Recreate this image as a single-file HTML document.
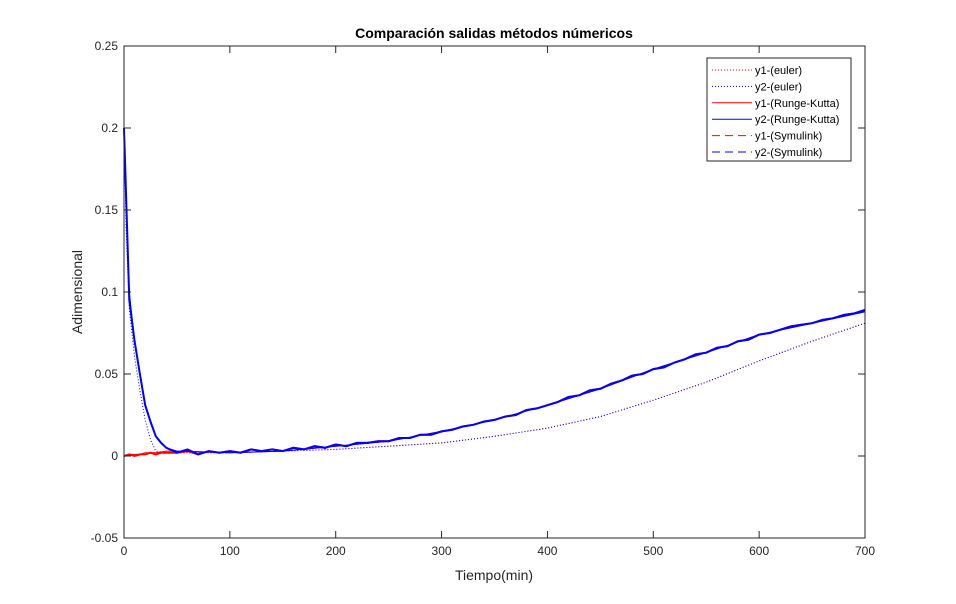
<!DOCTYPE html>
<html><head><meta charset="utf-8"><style>
body{margin:0;background:#fff}
svg{display:block;font-family:"Liberation Sans",sans-serif}
</style></head><body>
<svg id="chart" width="956" height="604" viewBox="0 0 956 604">
<rect width="956" height="604" fill="#fff"/>
<g id="plot"></g>
<text x="494" y="38" text-anchor="middle" font-size="14" font-weight="bold" fill="#000">Comparación salidas métodos númericos</text>
<text x="494" y="580" text-anchor="middle" font-size="14" fill="#262626">Tiempo(min)</text>
<text transform="translate(82,292) rotate(-90)" text-anchor="middle" font-size="14" fill="#262626">Adimensional</text>
</svg>
<script>
const xTicks=[0,100,200,300,400,500,600,700];
const yTicks=[-0.05,0,0.05,0.1,0.15,0.2,0.25];
const yTickLabels=["-0.05","0","0.05","0.1","0.15","0.2","0.25"];
const tSmooth=[0,2,5,10,15,20,25,30,40,50,100,150,200,250,300,350,400,450,500,550,600,650,700];
const y2RK=[0.2,0.15,0.1,0.07,0.05,0.032,0.02,0.012,0.005,0.003,0.002,0.003,0.006,0.009,0.015,0.022,0.031,0.041,0.053,0.063,0.074,0.081,0.088];
const y1RK=[0,0,0.001,0.001,0.001,0.002,0.002,0.002,0.003,0.003,0.002,0.003,0.006,0.009,0.015,0.022,0.031,0.041,0.053,0.063,0.074,0.081,0.088];
const y2Euler=[0.2,0.14,0.09,0.06,0.04,0.022,0.01,0.003,0.002,0.002,0.002,0.003,0.004,0.006,0.008,0.012,0.017,0.024,0.034,0.045,0.058,0.07,0.081];
const y1Euler=[0,0,0,0.001,0.001,0.001,0.002,0.002,0.002,0.002,0.002,0.003,0.004,0.006,0.008,0.012,0.017,0.024,0.034,0.045,0.058,0.07,0.081];
const tSym=[0,5,10,15,20,25,30,35,40,50,60,70,80,90,100,110,120,130,140,150,160,170,180,190,200,210,220,230,240,250,260,270,280,290,300,310,320,330,340,350,360,370,380,390,400,410,420,430,440,450,460,470,480,490,500,510,520,530,540,550,560,570,580,590,600,610,620,630,640,650,660,670,680,690,700];
const y2Sym=[0.2,0.095,0.07,0.05,0.031,0.021,0.012,0.008,0.005,0.002,0.004,0.001,0.003,0.002,0.003,0.002,0.004,0.003,0.004,0.003,0.005,0.004,0.006,0.005,0.007,0.006,0.008,0.008,0.009,0.009,0.011,0.011,0.013,0.013,0.015,0.016,0.018,0.019,0.021,0.022,0.024,0.025,0.028,0.029,0.031,0.033,0.036,0.037,0.04,0.041,0.044,0.046,0.049,0.05,0.053,0.054,0.057,0.059,0.062,0.063,0.066,0.067,0.07,0.071,0.074,0.075,0.077,0.079,0.08,0.081,0.083,0.084,0.086,0.087,0.089];
const y1Sym=[0,0.001,0,0.001,0.001,0.002,0.001,0.002,0.002,0.002,0.003,0.001,0.003,0.002,0.003,0.002,0.004,0.003,0.004,0.003,0.005,0.004,0.006,0.005,0.007,0.006,0.008,0.008,0.009,0.009,0.011,0.011,0.013,0.013,0.015,0.016,0.018,0.019,0.021,0.022,0.024,0.025,0.028,0.029,0.031,0.033,0.036,0.037,0.04,0.041,0.044,0.046,0.049,0.05,0.053,0.054,0.057,0.059,0.062,0.063,0.066,0.067,0.07,0.071,0.074,0.075,0.077,0.079,0.08,0.081,0.083,0.084,0.086,0.087,0.089];
const X0=124,X1=865,Y0=538,Y1=46;
const xs=v=>X0+(v-0)/(700-0)*(X1-X0);
const ys=v=>Y0-(v+0.05)/(0.3)*(Y0-Y1);
const NS="http://www.w3.org/2000/svg";
const g=document.getElementById('plot');
function mk(tag,attrs,parent){const e=document.createElementNS(NS,tag);for(const k in attrs)e.setAttribute(k,attrs[k]);(parent||g).appendChild(e);return e;}
function line(ts,vs,color,dash,w,name){
  const p=mk('path',{d:ts.map((t,i)=>(i?'L':'M')+xs(t).toFixed(1)+','+ys(vs[i]).toFixed(1)).join(''),fill:'none',stroke:color,'stroke-width':w,'stroke-dasharray':dash});
  
  
}
line(tSmooth,y1Euler,'#ff0000','1,2',1,'series-y1-euler');
line(tSmooth,y2Euler,'#0000ff','1,2',1,'series-y2-euler');
line(tSmooth,y1RK,'#ff0000','none',1,'series-y1-runge-kutta');
line(tSym,y1Sym,'#ff0000','none',2,'series-y1-symulink');
line(tSmooth,y2RK,'#0000ff','none',1,'series-y2-runge-kutta');
line(tSym,y2Sym,'#0000ff','none',2,'series-y2-symulink');
const box=mk('rect',{x:X0,y:Y1,width:X1-X0,height:Y0-Y1,fill:'none',stroke:'#262626','stroke-width':1});


xTicks.forEach(v=>{
  const x=xs(v);
  mk('line',{x1:x,x2:x,y1:Y0,y2:Y0-7,stroke:'#262626'});
  mk('line',{x1:x,x2:x,y1:Y1,y2:Y1+7,stroke:'#262626'});
  const t=mk('text',{x:x,y:Y0+17,'text-anchor':'middle','font-size':12,fill:'#262626'});
  t.textContent=v;
  
  
});
yTicks.forEach((v,i)=>{
  const y=ys(v);
  mk('line',{x1:X0,x2:X0+7,y1:y,y2:y,stroke:'#262626'});
  mk('line',{x1:X1,x2:X1-7,y1:y,y2:y,stroke:'#262626'});
  const t=mk('text',{x:X0-6,y:y+4,'text-anchor':'end','font-size':12,fill:'#262626'});
  t.textContent=yTickLabels[i];
  
  
});
const lg=mk('g',{});


mk('rect',{x:707,y:58,width:144,height:103,fill:'#fff',stroke:'#262626'},lg);
const legendLabels=['y1-(euler)','y2-(euler)','y1-(Runge-Kutta)','y2-(Runge-Kutta)','y1-(Symulink)','y2-(Symulink)'];
const legendColors=['#ff0000','#0000ff','#ff0000','#0000ff','#ff0000','#0000ff'];
const legendDash=['1,2','1,2','none','none','8,5','8,5'];
legendLabels.forEach((s,i)=>{
  const y=70+i*16.4;
  const e=mk('g',{},lg);
  
  
  mk('line',{x1:712,x2:752,y1:y,y2:y,stroke:legendColors[i],'stroke-dasharray':legendDash[i]},e);
  const t=mk('text',{x:755,y:y+4,'font-size':11,fill:'#000'},e);
  t.textContent=s;
});
</script>
</body></html>
